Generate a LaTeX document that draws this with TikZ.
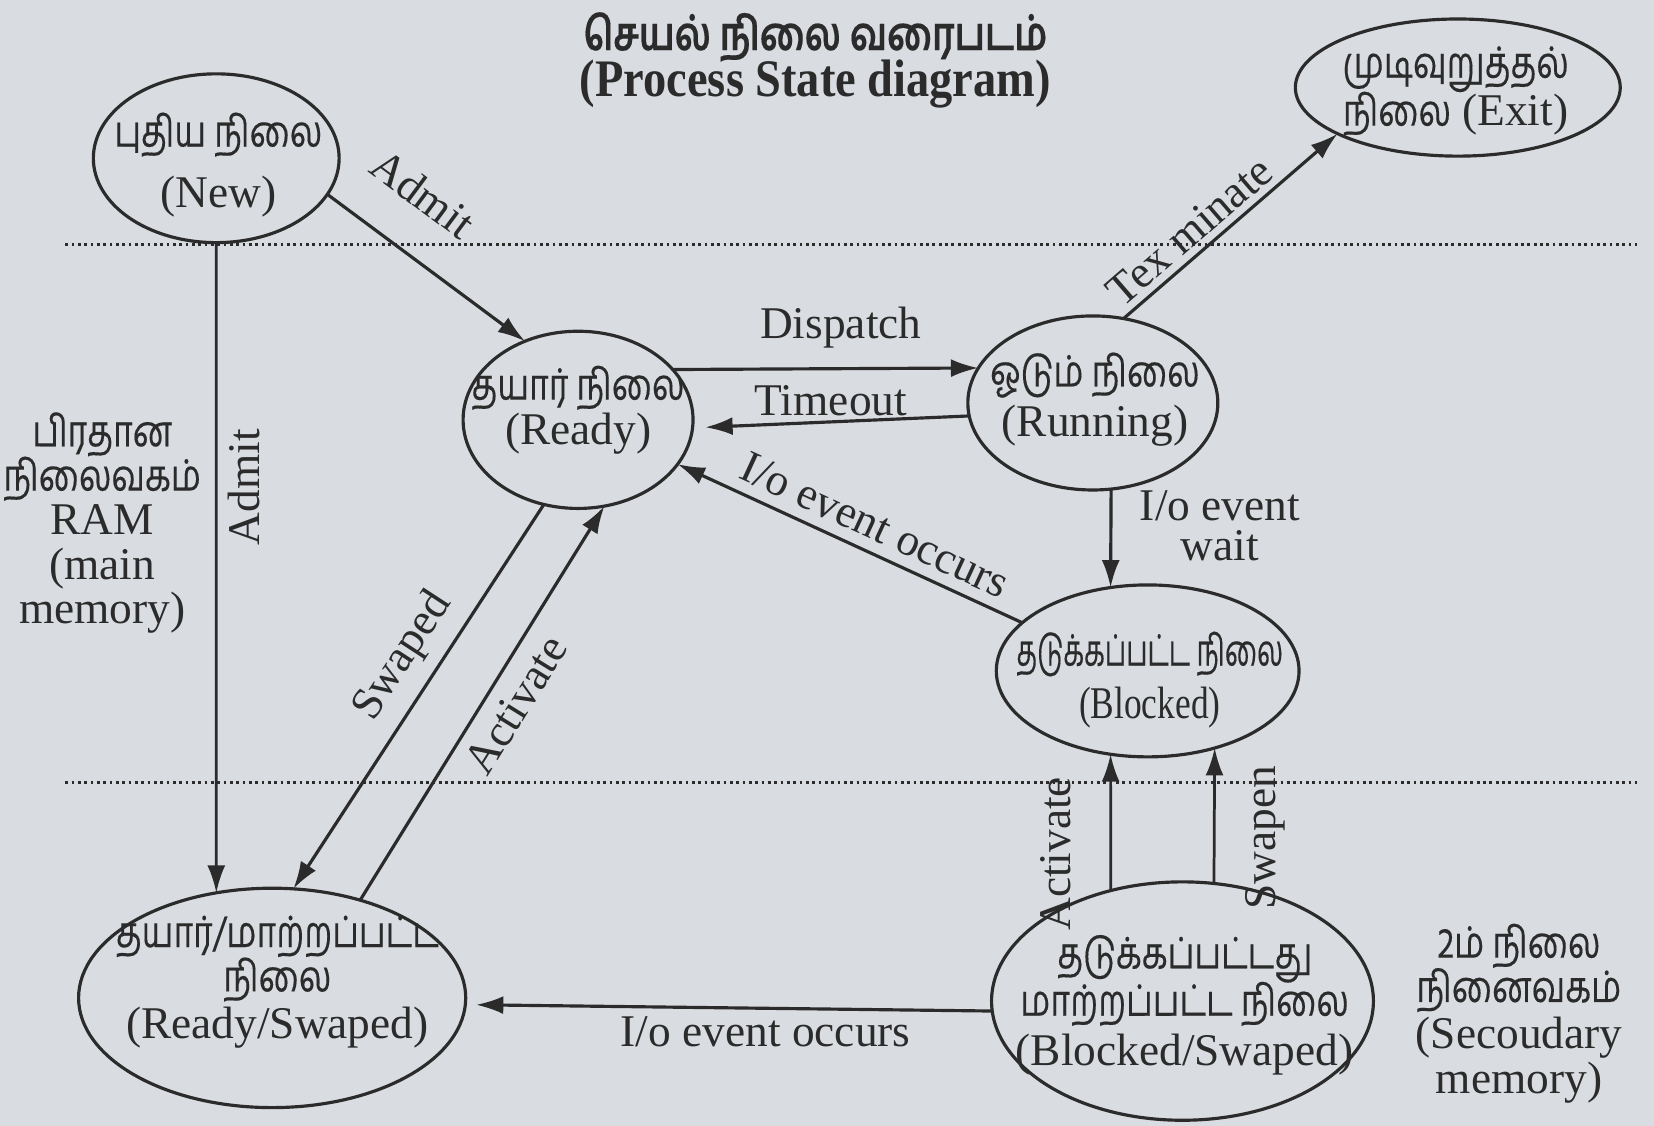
\documentclass[tikz,border=0pt]{standalone}
\usepackage{fontspec}
\usepackage{graphicx}
\setmainfont{Liberation Serif}
\newfontfamily\tam[Script=Tamil,FakeBold=0.3]{Hind Madurai}
\usetikzlibrary{arrows.meta,shapes.geometric}
\definecolor{bg}{HTML}{D9DCE1}
\definecolor{ink}{HTML}{2B2B2B}
\newcommand\T[1]{\scalebox{0.78}[1]{\tam\fontsize{20.5}{21}\selectfont\smash{#1}}\strut}
\newcommand\TB[1]{\scalebox{0.78}[1]{\tam\bfseries\fontsize{22}{22}\selectfont #1}}
\begin{document}
\begin{tikzpicture}[x=0.5pt,y=-0.5pt,
  st/.style={ellipse, draw=ink, line width=1.5pt, inner sep=0pt, outer sep=0pt},
  arr/.style={draw=ink, line width=1.5pt, -{Latex[length=13pt,width=8.5pt]}},
  txt/.style={text=ink, inner sep=0pt, align=center, font=\fontsize{21.5}{21}\selectfont},
  lbl/.style={text=ink, inner sep=1pt, font=\fontsize{21.5}{21}\selectfont},
  sep/.style={draw=ink, line width=1.4pt, dash pattern=on 1.3pt off 1.7pt}]
\path[fill=bg] (0,0) rectangle (1568,1067);
\useasboundingbox (0,0) rectangle (1568,1067);

% separators
\coordinate (s1a) at (62,232); \coordinate (s1b) at (1552,232);
\coordinate (s2a) at (62,742); \coordinate (s2b) at (1552,742);
\draw[sep] (s1a) -- (s1b);
\draw[sep] (s2a) -- (s2b);

% title
\node[txt] (t1) at (773,35) {\TB{செயல் நிலை வரைபடம்}};
\node[txt] (t2) at (773,80) {\scalebox{0.88}[1]{\fontsize{25}{25}\selectfont\bfseries (Process State diagram)}};

% states
\node[st, minimum width=116.5pt, minimum height=80pt] (new) at (205,150) {};
\node[st, minimum width=109pt, minimum height=84pt] (ready) at (548,398) {};
\node[st, minimum width=118.5pt, minimum height=82.5pt] (run) at (1036,382) {};
\node[st, minimum width=154pt, minimum height=65pt] (exit) at (1382,83) {};
\node[st, minimum width=143.5pt, minimum height=81.5pt] (blk) at (1088,636) {};
\node[st, minimum width=183.5pt, minimum height=104pt] (rs) at (258,946) {};
\node[st, minimum width=181pt, minimum height=113pt] (bs) at (1121,949) {};

\node[txt] (newt) at (207,157.5) {\T{புதிய நிலை}\\[6.5pt](New)};
\node[txt] (readyt) at (548,390) {\T{தயார் நிலை}\\[-1pt](Ready)};
\node[txt] (runt) at (1038,380) {\T{ஓடும் நிலை}\\[1.5pt](Running)};
\node[txt] (exitt) at (1380,88) {\T{முடிவுறுத்தல்}\\[0.5pt]\T{நிலை} (Exit)};
\node[txt] (blkt) at (1090,646) {\scalebox{0.8}[1]{\T{தடுக்கப்பட்ட நிலை}}\\[3pt]\scalebox{0.78}[1]{(Blocked)}};
\node[txt] (rst) at (263,931) {\T{தயார்/மாற்றப்பட்ட}\\\T{நிலை}\\(Ready/Swaped)};
\node[txt] (bst) at (1123,954) {\T{தடுக்கப்பட்டது}\\[1.5pt]\T{மாற்றப்பட்ட நிலை}\\[1.5pt](Blocked/Swaped)};

% side notes
\node[txt] (ram) at (97,497) {\T{பிரதான}\\\T{நிலைவகம்}\\RAM\\(main\\memory)};
\node[txt] (sec) at (1440,962) {\T{2ம் நிலை}\\\T{நினைவகம்}\\(Secoudary\\memory)};

% connectors
\draw[arr] (new.-18) -- node[lbl, sloped, above=18pt, pos=.31] {Admit} (ready.124.3);
\draw[arr, line width=1.3pt] (new.south) -- node[lbl, rotate=90, anchor=north, inner ysep=5pt, pos=.376] {Admit} (rs.118);
\draw[arr] (ready.28) -- node[lbl, above=8pt, pos=.55] {Dispatch} (run.163);
\draw[arr, shorten >=6pt] (run.186) -- node[lbl, above=1pt, pos=.5] {Timeout} (ready.-4);
\draw[arr] (blk.159.5) -- node[lbl, sloped, above=4pt, pos=.46] {I/o event occurs} (ready.-24);
\draw[arr] (run.-78.9) -- node[lbl, right=12pt, align=center, pos=.37] {I/o event\\[-2pt]wait} (blk.114.5);
\draw[arr] (run.70) -- node[lbl, sloped, above=2pt, pos=.38] {Tex minate} (exit.201);
\draw[arr] (ready.248) -- node[lbl, sloped, above=5pt, pos=.445] {Swaped} (rs.79.05);
\draw[arr] (rs.48.4) -- node[lbl, sloped, below=5pt, pos=.535] {Activate} (ready.-73);
\draw[arr, line width=1.3pt] (bs.123.4) -- node[lbl, rotate=90, anchor=south, inner ysep=18pt, pos=.27] {Activate} (blk.-114.5);
\draw[arr, line width=1.3pt] (bs.75.4) -- node[lbl, rotate=90, anchor=north, inner ysep=14pt, pos=.34] {Swapen} (blk.-49.9);
\draw[arr, shorten >=5pt] (bs.183) -- node[lbl, below=2pt, pos=.43] {I/o event occurs} (rs.-2);
\end{tikzpicture}
\end{document}
